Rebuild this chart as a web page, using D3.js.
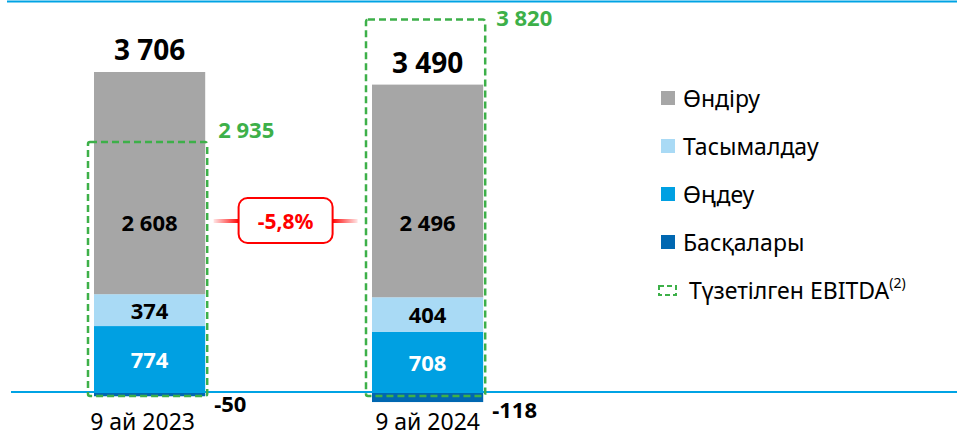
<!DOCTYPE html>
<html lang="kk">
<head>
<meta charset="utf-8">
<title>EBITDA</title>
<script src="https://cdnjs.cloudflare.com/ajax/libs/d3/7.8.5/d3.min.js"></script>
<style>
  body { margin: 0; background: #fff; }
  svg text { font-family: "Noto Sans", "Open Sans", sans-serif; }
</style>
</head>
<body>
<script>
// data
var periods = ["9 ай 2023", "9 ай 2024"];
var segments = ["Өңдеу", "Тасымалдау", "Өндіру"];
var processing = [774, 708];
var transport = [374, 404];
var production = [2608, 2496];
var other = [-50, -118];
var totals = [3706, 3490];
var ebitda = [2935, 3820];
var change = "-5,8%";
var legendNames = ["Өндіру", "Тасымалдау", "Өңдеу", "Басқалары"];
var ebitdaName = "Түзетілген EBITDA";

var w = 957, h = 438;
var colors = {
  "Өндіру": "#a6a6a6",
  "Тасымалдау": "#a9daf5",
  "Өңдеу": "#00a0e2",
  "Басқалары": "#0067b1"
};
var green = "#3db049";
var blue = "#00a3e4";

var svg = d3.select("body").append("svg")
  .attr("width", w).attr("height", h);

var x = d3.scaleBand().domain(periods).range([24.5, 552.7]).paddingInner(0.6).paddingOuter(0.25);
var y = d3.scaleLinear().domain([0, 3756]).range([392, 72]);

function fmt(v) { return String(v).replace(/\B(?=(\d{3})+$)/, " "); }

// stacked rows
var rows = periods.map(function(p, i) {
  return { period: p, "Өңдеу": processing[i], "Тасымалдау": transport[i], "Өндіру": production[i] };
});
var stack = d3.stack().keys(segments)(rows);

// top line
svg.append("line").attr("x1", 7).attr("x2", w).attr("y1", 1.5).attr("y2", 1.5)
  .attr("stroke", blue).attr("stroke-width", 2);

stack.forEach(function(layer) {
  svg.selectAll(null).data(layer).enter().append("rect")
    .attr("x", function(d) { return x(d.data.period); })
    .attr("width", x.bandwidth())
    .attr("y", function(d) { return y(d[1]); })
    .attr("height", function(d) { return y(d[0]) - y(d[1]); })
    .attr("fill", colors[layer.key]);
});

// negatives
svg.selectAll(".neg").data(periods).enter().append("rect")
  .attr("class", "neg")
  .attr("x", function(d) { return x(d); })
  .attr("width", x.bandwidth())
  .attr("y", y(0))
  .attr("height", function(d, i) { return y(other[i]) - y(0); })
  .attr("fill", colors["Басқалары"]);

// baseline
svg.append("line").attr("x1", 11).attr("x2", w).attr("y1", y(0)).attr("y2", y(0))
  .attr("stroke", blue).attr("stroke-width", 2);

// segment labels
stack.forEach(function(layer) {
  svg.selectAll(null).data(layer).enter().append("text")
    .attr("x", function(d) { return x(d.data.period) + x.bandwidth() / 2; })
    .attr("y", function(d) {
      if (layer.key === "Өндіру") return y(2000);
      return (y(d[0]) + y(d[1])) / 2;
    })
    .attr("text-anchor", "middle").attr("dominant-baseline", "central")
    .attr("font-weight", "bold").attr("font-size", 22)
    .attr("fill", layer.key === "Өңдеу" ? "#fff" : "#000")
    .text(function(d) { return fmt(d[1] - d[0]); });
});

// totals
var totalY = periods.map(function(p, i) { return y(processing[i] + transport[i] + production[i]) - 12; });
svg.selectAll(".tot").data(periods).enter().append("text")
  .attr("x", function(d) { return x(d) + x.bandwidth() / 2; })
  .attr("y", function(d, i) { return totalY[i]; })
  .attr("text-anchor", "middle").attr("font-weight", "bold").attr("font-size", 28).attr("fill", "#000")
  .text(function(d, i) { return fmt(totals[i]); });

// other labels
svg.selectAll(".oth").data(periods).enter().append("text")
  .attr("x", function(d) { return x(d) + x.bandwidth() + 9; })
  .attr("y", function(d, i) { return y(other[i]) + 16; })
  .attr("font-weight", "bold").attr("font-size", 22).attr("fill", "#000")
  .text(function(d, i) { return other[i]; });

// EBITDA boxes (box grows to hold the total label when EBITDA is above it)
var boxTop = periods.map(function(p, i) {
  return ebitda[i] > totals[i] ? totalY[i] - 53 : y(ebitda[i]);
});
svg.selectAll(".box").data(periods).enter().append("rect")
  .attr("x", function(d) { return x(d) - 6; })
  .attr("width", x.bandwidth() + 8)
  .attr("y", function(d, i) { return boxTop[i]; })
  .attr("height", function(d, i) { return y(0) + 4 - boxTop[i]; })
  .attr("fill", "none").attr("stroke", green).attr("stroke-width", 2.5)
  .attr("stroke-dasharray", "7,4").attr("rx", 2);

svg.selectAll(".ebl").data(periods).enter().append("text")
  .attr("x", function(d) { return x(d) + x.bandwidth() + 13; })
  .attr("y", function(d, i) { return ebitda[i] > totals[i] ? boxTop[i] + 6 : boxTop[i] - 4; })
  .attr("font-weight", "bold").attr("font-size", 22).attr("fill", green)
  .text(function(d, i) { return fmt(ebitda[i]); });

// category axis labels
svg.selectAll(".cat").data(periods).enter().append("text")
  .attr("x", function(d, i) { return x(d) + x.bandwidth() / 2 - (i === 0 ? 7 : 0); })
  .attr("y", 430)
  .attr("text-anchor", "middle").attr("font-size", 23).attr("fill", "#000")
  .text(function(d) { return d; });

// change pill
var defs = svg.append("defs");
["l", "r"].forEach(function(k) {
  var g = defs.append("linearGradient").attr("id", "fade" + k)
    .attr("x1", k === "l" ? "0%" : "100%").attr("x2", k === "l" ? "100%" : "0%");
  g.append("stop").attr("offset", "0%").attr("stop-color", "#ff0000").attr("stop-opacity", 0.1);
  g.append("stop").attr("offset", "100%").attr("stop-color", "#ff0000").attr("stop-opacity", 1);
});
var cx = (x(periods[0]) + x.bandwidth() + x(periods[1])) / 2 - 3, cy = 221;
svg.append("rect").attr("x", cx - 72).attr("y", cy - 2).attr("width", 26).attr("height", 4).attr("fill", "url(#fadel)");
svg.append("rect").attr("x", cx + 46).attr("y", cy - 2).attr("width", 26).attr("height", 4).attr("fill", "url(#fader)");
svg.append("rect").attr("x", cx - 47).attr("y", cy - 23).attr("width", 94).attr("height", 45)
  .attr("rx", 9).attr("fill", "#fff").attr("stroke", "#ff0000").attr("stroke-width", 2);
svg.append("text").attr("x", cx).attr("y", cy).attr("text-anchor", "middle").attr("dominant-baseline", "central")
  .attr("font-weight", "bold").attr("font-size", 21).attr("fill", "#ff0000").text(change);

// legend
var lg = svg.append("g").attr("transform", "translate(661,98)");
var items = lg.selectAll("g").data(legendNames).enter().append("g")
  .attr("transform", function(d, i) { return "translate(0," + i * 48 + ")"; });
items.append("rect").attr("x", 0).attr("y", -7).attr("width", 14).attr("height", 14)
  .attr("fill", function(d) { return colors[d]; });
items.append("text").attr("x", 22).attr("y", 0).attr("dominant-baseline", "central")
  .attr("font-size", 23).attr("fill", "#000").text(function(d) { return d; });
var le = lg.append("g").attr("transform", "translate(0," + 4 * 48 + ")");
le.append("rect").attr("x", -2).attr("y", -4).attr("width", 17).attr("height", 9)
  .attr("fill", "none").attr("stroke", green).attr("stroke-width", 2).attr("stroke-dasharray", "5,3");
var lt = le.append("text").attr("x", 28).attr("y", 0).attr("dominant-baseline", "central")
  .attr("font-size", 23).attr("fill", "#000").text(ebitdaName);
lt.append("tspan").attr("font-size", 14).attr("dy", -8).text("(2)");
</script>
</body>
</html>
